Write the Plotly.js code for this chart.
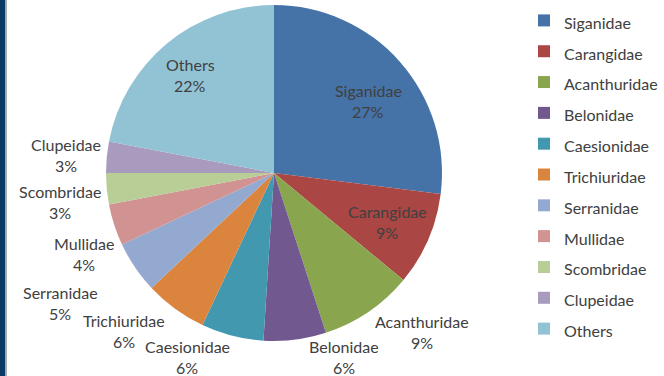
<!DOCTYPE html>
<html>
<head>
<meta charset="utf-8">
<script src="https://cdn.plot.ly/plotly-3.0.1.min.js"></script>
<style>
  html, body { margin: 0; padding: 0; background: #ffffff; }
  #chart { width: 664px; height: 376px; }
</style>
</head>
<body>
<div id="chart"></div>
<script>
// ---- data ----
var families = ["Siganidae", "Carangidae", "Acanthuridae", "Belonidae", "Caesionidae",
                "Trichiuridae", "Serranidae", "Mullidae", "Scombridae", "Clupeidae", "Others"];
var shares = [27, 9, 9, 6, 6, 6, 5, 4, 3, 3, 22];

// ---- styles / layout helpers ----
var colors = ["#4572A7", "#AA4643", "#89A54E", "#71588F", "#4198AF", "#DB843D",
              "#93A9CF", "#D19392", "#B9CD96", "#A99BBD", "#92C3D4"];
var W = 664, H = 376;
var FONT = "Lato, 'Open Sans', sans-serif";
var TXT = "#404040";
// label block centres (pixels), one per slice, in slice order
var labelCenters = [[368, 101], [387, 222], [422, 332], [344, 357], [187, 357],
                    [124, 331], [60, 303], [84, 254], [60, 202], [66, 155], [190, 75]];

var total = shares.reduce(function (a, b) { return a + b; }, 0);
var pctText = shares.map(function (v) { return Math.round(v / total * 100) + "%"; });

var annotations = [];
families.forEach(function (name, i) {
  var c = labelCenters[i];
  annotations.push({
    xref: "paper", yref: "paper", x: c[0] / W, y: 1 - (c[1] - 10.5) / H,
    text: name, showarrow: false, xanchor: "center", yanchor: "middle",
    font: { family: FONT, size: 16, color: TXT }
  });
  annotations.push({
    xref: "paper", yref: "paper", x: c[0] / W, y: 1 - (c[1] + 10.5) / H,
    text: pctText[i], showarrow: false, xanchor: "center", yanchor: "middle",
    font: { family: FONT, size: 16, color: TXT }
  });
});

// pie geometry (pixels)
var cx = 274, cy = 173, R = 168;

var trace = {
  type: "pie",
  labels: families.map(function (n) {
    return '<span style="font-size:16px">' + n + '</span>';
  }),
  values: shares,
  sort: false,
  direction: "clockwise",
  rotation: 0,
  textinfo: "none",
  hoverinfo: "label+percent",
  marker: { colors: colors, line: { width: 0 } },
  domain: {
    x: [(cx - R) / W, (cx + R) / W],
    y: [1 - (cy + R) / H, 1 - (cy - R) / H]
  }
};

var layout = {
  width: W, height: H,
  margin: { l: 0, r: 0, t: 0, b: 0 },
  paper_bgcolor: "#ffffff",
  showlegend: true,
  legend: {
    x: 524 / W, y: 1, xanchor: "left", yanchor: "top",
    font: { family: FONT, size: 21.4, color: TXT },
    bgcolor: "rgba(0,0,0,0)", borderwidth: 0
  },
  annotations: annotations,
  shapes: [
    { type: "rect", xref: "paper", yref: "paper", x0: 0, x1: 5 / W, y0: 0, y1: 1,
      fillcolor: "#083a63", line: { width: 0 } },
    { type: "rect", xref: "paper", yref: "paper", x0: 5 / W, x1: 7 / W, y0: 0, y1: 1,
      fillcolor: "#a8a8a8", line: { width: 0 } }
  ]
};

Plotly.newPlot("chart", [trace], layout, { displayModeBar: false, staticPlot: true });
</script>
</body>
</html>
